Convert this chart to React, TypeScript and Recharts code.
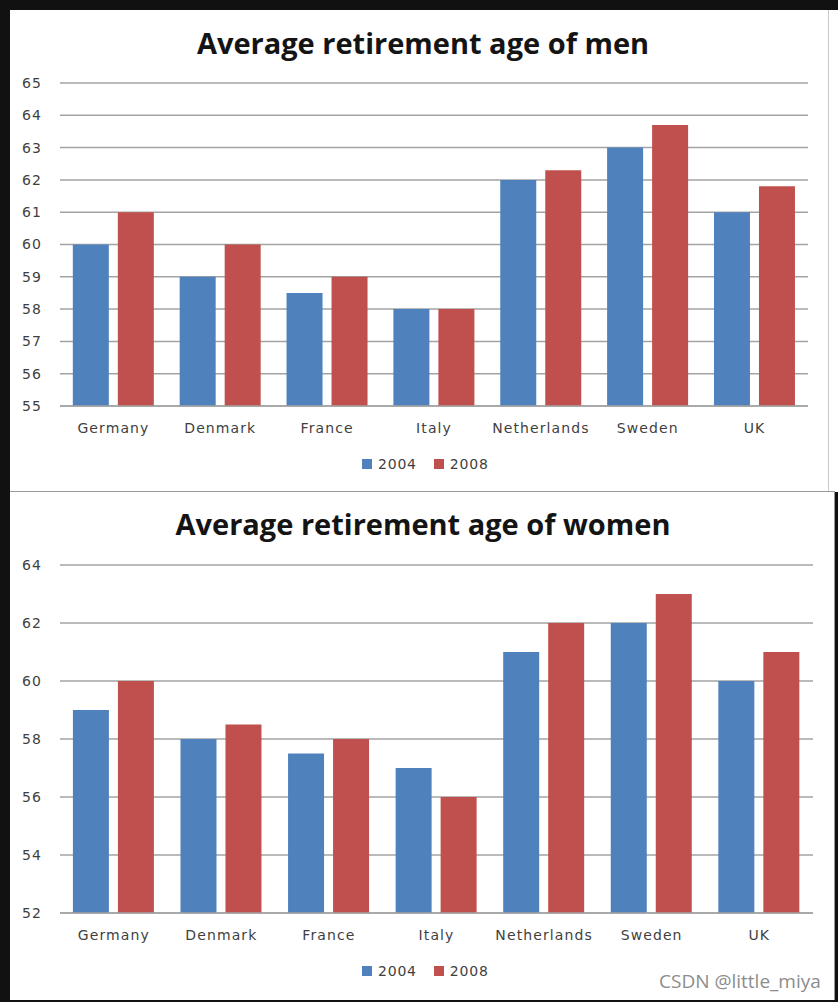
import React from 'react';
import { BarChart, Bar, XAxis, YAxis, CartesianGrid } from 'recharts';

const countries = ['Germany', 'Denmark', 'France', 'Italy', 'Netherlands', 'Sweden', 'UK'];
const men2004 = [60, 59, 58.5, 58, 62, 63, 61];
const men2008 = [61, 60, 59, 58, 62.3, 63.7, 61.8];
const women2004 = [59, 58, 57.5, 57, 61, 62, 60];
const women2008 = [60, 58.5, 58, 56, 62, 63, 61];
const menTicks = [55, 56, 57, 58, 59, 60, 61, 62, 63, 64, 65];
const womenTicks = [52, 54, 56, 58, 60, 62, 64];
const seriesNames = ['2004', '2008'];

const BLUE = '#4f81bd';
const RED = '#c0504d';
const GRID = '#a3a3a3';
const LABEL = '#3f3f3f';

const menData = countries.map((c, i) => ({ country: c, y2004: men2004[i], y2008: men2008[i] }));
const womenData = countries.map((c, i) => ({ country: c, y2004: women2004[i], y2008: women2008[i] }));

const tickStyle = {
  fill: LABEL,
  fontSize: 14,
  fontFamily: 'DejaVu Sans',
  letterSpacing: 1.1,
};

const titleStyle: React.CSSProperties = {
  position: 'absolute',
  left: 0,
  width: 846,
  textAlign: 'center',
  fontFamily: 'Open Sans',
  fontWeight: 700,
  fontSize: 29,
  color: '#141414',
  lineHeight: '32px',
};

// plain html legend so it doesn't eat into the plot height
const LegendRow: React.FC<{ top: number }> = ({ top }) => (
  <div
    style={{
      position: 'absolute',
      left: 362,
      top,
      display: 'flex',
      alignItems: 'center',
      fontFamily: 'DejaVu Sans',
      fontSize: 14,
      letterSpacing: 0.8,
      color: LABEL,
    }}
  >
    {seriesNames.map((name, i) => (
      <div key={name} style={{ display: 'flex', alignItems: 'center', marginRight: i === 0 ? 17 : 0 }}>
        <span style={{ width: 10, height: 10, background: i === 0 ? BLUE : RED, marginRight: 6 }} />
        <span>{name}</span>
      </div>
    ))}
  </div>
);

interface PanelProps {
  data: { country: string; y2004: number; y2008: number }[];
  ticks: number[];
  height: number;
  margin: { top: number; right: number; bottom: number; left: number };
}

const RetirementBars: React.FC<PanelProps> = ({ data, ticks, height, margin }) => (
  <BarChart
    width={838}
    height={height}
    data={data}
    margin={margin}
    barCategoryGap="12%"
    barGap={9}
  >
    <CartesianGrid vertical={false} stroke={GRID} strokeWidth={1.5} />
    <XAxis
      dataKey="country"
      height={30}
      axisLine={{ stroke: GRID, strokeWidth: 1.5 }}
      tickLine={false}
      tickMargin={11}
      tick={tickStyle}
      interval={0}
    />
    <YAxis
      width={60}
      domain={[ticks[0], ticks[ticks.length - 1]]}
      ticks={ticks}
      axisLine={false}
      tickLine={false}
      tickMargin={12}
      tick={tickStyle}
    />
    <Bar dataKey="y2004" name={seriesNames[0]} fill={BLUE} isAnimationActive={false} />
    <Bar dataKey="y2008" name={seriesNames[1]} fill={RED} isAnimationActive={false} />
  </BarChart>
);

export default function App() {
  return (
    <div
      style={{
        position: 'fixed',
        left: 0,
        top: 0,
        width: 838,
        height: 1002,
        background: '#111111',
        overflow: 'hidden',
      }}
    >
      {/* top panel */}
      <div style={{ position: 'absolute', left: 10, top: 10, width: 828, height: 482, background: '#fff' }} />
      <div style={{ position: 'absolute', left: 828, top: 10, width: 1, height: 482, background: '#c8c8c8' }} />
      <div style={{ ...titleStyle, top: 27 }}>Average retirement age of men</div>
      <div style={{ position: 'absolute', left: 0, top: 0 }}>
        <RetirementBars
          data={menData}
          ticks={menTicks}
          height={490}
          margin={{ top: 83, right: 30, bottom: 54, left: 0 }}
        />
      </div>
      <LegendRow top={456} />

      {/* bottom panel */}
      <div
        style={{
          position: 'absolute',
          left: 10,
          top: 491,
          width: 824,
          height: 508,
          background: '#fff',
          borderTop: '1px solid #9a9a9a',
          borderRight: '1px solid #9a9a9a',
        }}
      />
      <div style={{ ...titleStyle, top: 508 }}>Average retirement age of women</div>
      <div style={{ position: 'absolute', left: 0, top: 492 }}>
        <RetirementBars
          data={womenData}
          ticks={womenTicks}
          height={508}
          margin={{ top: 73, right: 25, bottom: 57, left: 0 }}
        />
      </div>
      <LegendRow top={963} />
      <div
        style={{
          position: 'absolute',
          left: 659,
          top: 968,
          fontFamily: 'Open Sans',
          fontSize: 19,
          color: '#8c8c8c',
        }}
      >
        CSDN @little_miya
      </div>
    </div>
  );
}
